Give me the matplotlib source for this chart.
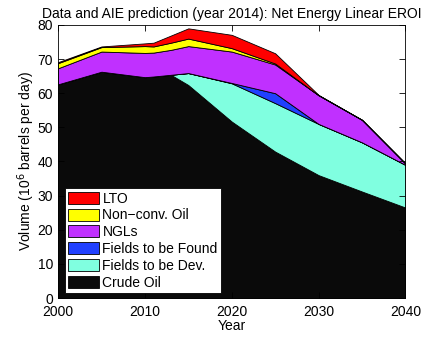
import matplotlib

matplotlib.use("Agg")
import matplotlib.pyplot as plt
import numpy as np

plt.rcParams["font.family"] = ["Liberation Sans", "DejaVu Sans"]
plt.rcParams["font.size"] = 10

# production by source, 10^6 barrels per day
years = [2000, 2005, 2010, 2011, 2013, 2015, 2020, 2025, 2030, 2035, 2040]
crude_oil = [62.6, 66.3, 64.7, 64.9, 65.4, 62.4, 51.7, 42.9, 36.0, 31.2, 26.5]
fields_dev = [0, 0, 0, 0, 0, 3.5, 11.2, 14.2, 15.0, 14.4, 12.5]
fields_found = [0, 0, 0, 0, 0, 0, 0.1, 2.9, 0, 0, 0]
ngls = [4.7, 5.9, 7.1, 7.0, 7.3, 7.9, 9.2, 8.4, 8.4, 6.6, 0.4]
nonconv = [1.5, 1.3, 2.0, 1.8, 2.1, 2.2, 1.0, 0.3, 0, 0, 0]
lto = [0.3, 0.2, 0.8, 1.1, 2.1, 3.0, 3.9, 3.0, 0.1, 0, 0]

labels = ["Crude Oil", "Fields to be Dev.", "Fields to be Found",
          "NGLs", "Non\u2212conv. Oil", "LTO"]
colors = ["#0a0a0a", "#80ffe0", "#2040ff", "#c030ff", "#ffff00", "#ff0000"]

fig = plt.figure(figsize=(4.48, 3.37), dpi=100)
ax = fig.add_axes([0.1295, 0.1157, 0.7755, 0.8103])

ax.stackplot(years, crude_oil, fields_dev, fields_found, ngls, nonconv, lto,
             labels=labels, colors=colors, edgecolor="black", linewidth=0.6)

ax.set_xlim(2000, 2040)
ax.set_ylim(0, 80)
ax.set_xticks(np.arange(2000, 2041, 10))
ax.set_yticks(np.arange(0, 81, 10))
ax.tick_params(direction="in", top=True, right=True, length=4, width=0.6)
ax.tick_params(axis="x", pad=5)
for s in ax.spines.values():
    s.set_linewidth(0.6)

ax.set_xlabel("Year", labelpad=0)
ax.set_ylabel("Volume (10$^6$ barrels per day)", labelpad=0.5)
ax.set_title("Data and AIE prediction (year 2014): Net Energy Linear EROI",
             fontsize=10, pad=5)

handles, labs = ax.get_legend_handles_labels()
leg = ax.legend(handles[::-1], labs[::-1], loc="lower left",
                bbox_to_anchor=(0.012, 0.008), fancybox=False, framealpha=1,
                edgecolor="black", borderpad=0.25, labelspacing=0.2,
                handlelength=2.2, handleheight=0.95, handletextpad=0.25,
                borderaxespad=0.2)
leg.get_frame().set_linewidth(0.6)

fig.savefig("out.png", dpi=100)
plt.close(fig)
